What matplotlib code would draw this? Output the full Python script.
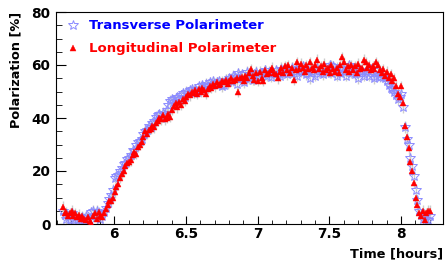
import numpy as np
import matplotlib
matplotlib.use("Agg")
import matplotlib.pyplot as plt
from matplotlib.ticker import MultipleLocator, FixedLocator

plt.rcParams['font.family'] = ['DejaVu Sans']
plt.rcParams['font.weight'] = 'bold'

# time grid: start and spacing (hours)
t_start = 5.64
t_step = 0.0125

longitudinal = [
    6.5, 4, 4.5, 3, 4, 5, 3, 4, 2.5, 3.5,
    2, 3, 2, 1.5, 2.5, 1, 0.5, 3, 4, 2,
    4.5, 3, 2.5, 4, 5.5, 7, 8.5, 8.5, 10, 12,
    14, 15, 17.5, 19, 20, 22, 23, 23.5, 24, 26,
    27, 26.5, 29, 30, 31, 33, 35, 34, 35.5, 36,
    37, 36.5, 38, 39, 40, 39.5, 41, 39.5, 40, 41.5,
    40.5, 43, 44.5, 45.5, 44, 46, 45, 47, 46.5, 48,
    49, 48.5, 50, 49.5, 50.5, 49, 51, 50, 51.5, 50.5,
    49, 51, 52, 51.5, 53, 52, 53.5, 52.5, 53, 54,
    53.5, 54.5, 53, 54, 55, 54, 54.5, 55, 50, 55,
    55.5, 54, 56, 55, 57, 58.5, 56, 54.5, 57, 54,
    57.5, 55, 54, 58, 56.5, 57, 58, 59, 57, 56.5,
    55, 57.5, 59, 57, 59.5, 58, 60, 57, 59, 54.5,
    58, 61, 58.5, 60.5, 59, 57.5, 60, 58.5, 61, 59,
    58, 60, 62, 58.5, 59.5, 57.5, 60.5, 58, 59, 57,
    60, 58.5, 57.5, 59, 57, 60, 63, 61, 58, 59.5,
    57.5, 60, 58, 59.5, 57, 60.5, 58.5, 59, 62, 61,
    59, 60, 58, 59.5, 58.5, 61, 60, 58, 57, 58.5,
    56, 57.5, 55, 56.5, 54, 55, 52, 49, 48, 52,
    45.5, 37, 33, 28.5, 23.5, 20, 15.5, 10, 7, 4,
    3, 5, 1.5, 4, 5, 5,
]

transverse = [
    5, 3.5, 2, 3, 1.5, 4, 2, 3, 1.5, 2,
    1, 2.5, 1.5, 3, 2, 1, 4.5, 5, 3.5, 5,
    4, 2, 3, 4.5, 6, 8, 9.5, 11, 13, 17.5,
    18, 18.5, 20, 21, 22.5, 23, 24.5, 25, 26, 28,
    27.5, 30, 31, 31.5, 32, 34, 35, 35.5, 37, 36.5,
    38, 39, 40.5, 41, 41.5, 40, 42, 41.5, 43, 45,
    46.5, 47, 46, 47.5, 48, 47, 48.5, 49.5, 48, 50,
    49.5, 50.5, 51, 49.5, 51, 50, 52, 51, 52.5, 51.5,
    53, 52, 53.5, 52.5, 54, 53, 53.5, 54, 53, 52,
    52.5, 54.5, 53.5, 55, 54, 56, 55.5, 53, 57, 55,
    56.5, 53.5, 55, 57.5, 55, 56, 54.5, 56.5, 57.5, 56,
    55.5, 57, 56.5, 58, 56, 57.5, 55.5, 57, 56.5, 58,
    57, 56, 58.5, 57, 59, 56.5, 58, 57.5, 59, 57,
    58.5, 56, 58, 57.5, 59.5, 58, 56.5, 58, 55, 57.5,
    58.5, 56, 59, 57, 58, 56.5, 59, 57.5, 58, 60,
    57, 59.5, 58, 56, 58.5, 57, 59, 57.5, 56, 58,
    60, 57, 58.5, 56.5, 59, 55, 58, 57, 56, 57.5,
    58, 56, 58.5, 57, 55, 56, 58, 55.5, 57, 55.5,
    55, 54, 52.5, 51.5, 51, 50, 48.5, 47, 48, 49,
    44, 36.5, 32, 30, 25, 22, 18, 13, 9, 5,
    3.5, 2, 3, 2, 1.5, 3,
]

err = 2.0

t_long = t_start + t_step * np.arange(len(longitudinal))
t_trans = t_start + t_step * np.arange(len(transverse))

fig = plt.figure(figsize=(4.46, 2.64), dpi=100)
ax = fig.add_axes([56/446, 40/264, 387/446, 212/264])

ax.errorbar(t_trans, transverse, yerr=err, fmt='none', ecolor='#cccccc', elinewidth=1.0, zorder=1)
ax.errorbar(t_long, longitudinal, yerr=err, fmt='none', ecolor='#cccccc', elinewidth=1.0, zorder=1)
h1, = ax.plot(t_trans, transverse, ls='none', marker='*', ms=7, mfc='none', mec='#8c8cff', mew=0.7, zorder=2,
              label='Transverse Polarimeter')
h2, = ax.plot(t_long, longitudinal, ls='none', marker='^', ms=4.8, mfc='#ff0000', mec='#ff0000', mew=0.3, zorder=3,
              label='Longitudinal Polarimeter')

ax.set_xlim(5.593, 8.293)
ax.set_ylim(0, 80)
ax.xaxis.set_major_locator(FixedLocator([6, 6.5, 7, 7.5, 8]))
ax.xaxis.set_minor_locator(MultipleLocator(0.1))
ax.yaxis.set_major_locator(MultipleLocator(20))
ax.yaxis.set_minor_locator(MultipleLocator(5))
ax.set_xticklabels(['6', '6.5', '7', '7.5', '8'])
ax.tick_params(which='both', direction='in', top=False, right=False, labelsize=9.8)
ax.tick_params(axis='x', which='major', length=6, pad=2.5)
ax.tick_params(axis='x', which='minor', length=3)
ax.tick_params(axis='y', which='major', length=7, pad=4)
ax.tick_params(axis='y', which='minor', length=4)
for lab in ax.get_xticklabels() + ax.get_yticklabels():
    lab.set_fontweight('bold')
for sp in ax.spines.values():
    sp.set_linewidth(0.8)

ax.set_ylabel('Polarization [%]', fontsize=9.3, fontweight='bold', loc='top')
ax.yaxis.set_label_coords(-34/387, 1.0)
ax.set_xlabel('Time [hours]', fontsize=9.3, fontweight='bold', loc='right')
ax.xaxis.set_label_coords(1.0, -0.11)

leg = ax.legend(handles=[h1, h2], loc='upper left', bbox_to_anchor=(0.0, 1.015), frameon=False,
                prop={'size': 9.5, 'weight': 'bold'}, handlelength=1.0, handletextpad=0.7,
                labelspacing=0.75, borderaxespad=0.4, markerscale=1.0)
for txt, c in zip(leg.get_texts(), ['#0000ff', '#ff0000']):
    txt.set_color(c)

fig.savefig('out.png', dpi=100)
